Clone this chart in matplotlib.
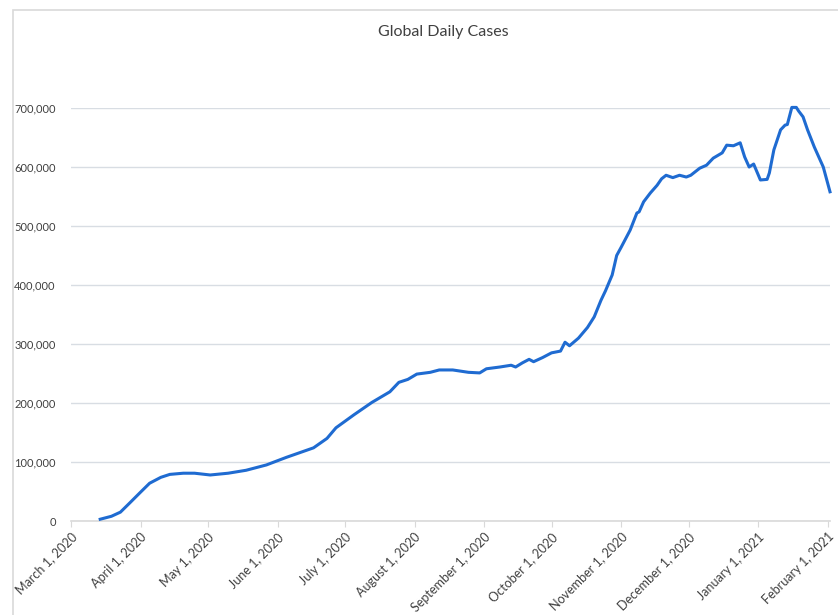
#!/usr/bin/env python3
"""
Global daily COVID-19 cases (7-day average), Excel-style line chart.
"""

import matplotlib
matplotlib.use("Agg")
import matplotlib.pyplot as plt
import matplotlib.dates as mdates
import matplotlib.ticker as mticker
from matplotlib.patches import Rectangle
import pandas as pd


DATES = [
    "2020-03-14", "2020-03-19", "2020-03-23", "2020-03-27", "2020-04-01",
    "2020-04-05", "2020-04-10", "2020-04-14", "2020-04-20", "2020-04-25",
    "2020-05-02", "2020-05-10", "2020-05-18", "2020-05-27", "2020-06-05",
    "2020-06-11", "2020-06-17", "2020-06-23", "2020-06-27", "2020-07-05",
    "2020-07-13", "2020-07-21", "2020-07-25", "2020-07-29", "2020-08-02",
    "2020-08-08", "2020-08-12", "2020-08-18", "2020-08-25", "2020-08-30",
    "2020-09-02", "2020-09-08", "2020-09-13", "2020-09-15", "2020-09-18",
    "2020-09-21", "2020-09-23", "2020-09-27", "2020-10-01", "2020-10-05",
    "2020-10-07", "2020-10-09", "2020-10-13", "2020-10-17", "2020-10-20",
    "2020-10-23", "2020-10-25", "2020-10-28", "2020-10-30", "2020-11-01",
    "2020-11-05", "2020-11-08", "2020-11-09", "2020-11-11", "2020-11-14",
    "2020-11-17", "2020-11-19", "2020-11-21", "2020-11-24", "2020-11-27",
    "2020-11-30", "2020-12-02", "2020-12-06", "2020-12-09", "2020-12-12",
    "2020-12-16", "2020-12-18", "2020-12-21", "2020-12-24", "2020-12-26",
    "2020-12-28", "2020-12-30", "2021-01-02", "2021-01-05", "2021-01-06",
    "2021-01-08", "2021-01-11", "2021-01-13", "2021-01-14", "2021-01-16",
    "2021-01-18", "2021-01-19", "2021-01-21", "2021-01-23", "2021-01-26",
    "2021-01-30", "2021-02-02",
]

CASES = [
    3000, 8000, 15000, 30000, 49000,
    64000, 74000, 79000, 81000, 81000,
    78000, 81000, 86000, 95000, 108000,
    116000, 124000, 140000, 158000, 180000,
    201000, 219000, 235000, 240000, 249000,
    252000, 256000, 256000, 252000, 251000,
    258000, 261000, 264000, 261000, 268000,
    274000, 270000, 277000, 285000, 288000,
    303000, 297000, 310000, 328000, 346000,
    374000, 390000, 417000, 450000, 464000,
    493000, 522000, 524000, 541000, 556000,
    569000, 580000, 586000, 582000, 586000,
    583000, 586000, 598000, 603000, 615000,
    624000, 637000, 636000, 641000, 617000,
    600000, 605000, 578000, 579000, 590000,
    629000, 663000, 671000, 672000, 701000,
    701000, 695000, 685000, 663000, 634000,
    600000, 558000,
]

TITLE = "Global Daily Cases"
Y_TICKS = [0, 100000, 200000, 300000, 400000, 500000, 600000, 700000]

LINE_COLOR = "#1f6bd1"
TEXT_COLOR = "#404040"
GRID_COLOR = "#d8dde3"


def main():
    plt.rcParams["font.family"] = ["Lato", "DejaVu Sans"]

    dates = pd.to_datetime(DATES)

    fig = plt.figure(figsize=(8.38, 6.15), dpi=100)
    ax = fig.add_axes([71 / 838, 94 / 615, 759 / 838, 413 / 615])

    # light chart-area frame, cropped on the right and bottom like the screenshot
    fig.patches.append(Rectangle((13 / 838, -0.1), 1.2, 1 - 10 / 615 + 0.1,
                                 transform=fig.transFigure, fill=False,
                                 edgecolor="#d9d9d9", linewidth=1.2))

    ax.plot(dates, CASES, color=LINE_COLOR, linewidth=2.2, clip_on=False,
            solid_joinstyle="round", zorder=3)

    ax.set_xlim(pd.Timestamp("2020-03-01"), pd.Timestamp("2021-02-02"))
    ax.set_ylim(0, 700000)
    ax.set_yticks(Y_TICKS)
    ax.yaxis.set_major_formatter(mticker.FuncFormatter(lambda v, _: f"{int(v):,}"))

    ax.xaxis.set_major_locator(mdates.MonthLocator(bymonthday=1))
    ax.xaxis.set_major_formatter(
        mticker.FuncFormatter(lambda v, _: mdates.num2date(v).strftime("%B %-d, %Y"))
    )

    ax.grid(axis="y", color=GRID_COLOR, linewidth=1.0)
    ax.set_axisbelow(True)
    for side in ["top", "right", "left"]:
        ax.spines[side].set_visible(False)
    ax.spines["bottom"].set_color("#d9d9d9")
    ax.spines["bottom"].set_linewidth(1.2)

    ax.tick_params(axis="y", length=0, pad=11, labelsize=8, labelcolor=TEXT_COLOR)
    ax.tick_params(axis="x", length=4, color="#d9d9d9", pad=3, labelsize=9,
                   labelcolor=TEXT_COLOR)
    for label in ax.get_xticklabels():
        label.set_rotation(45)
        label.set_ha("right")
        label.set_va("top")
        label.set_rotation_mode("anchor")

    fig.text(443 / 838, 1 - 32 / 615, TITLE, ha="center", va="center",
             fontsize=11.5, color=TEXT_COLOR)

    fig.savefig("out.png", dpi=100, facecolor="white")
    plt.close(fig)


if __name__ == "__main__":
    main()
